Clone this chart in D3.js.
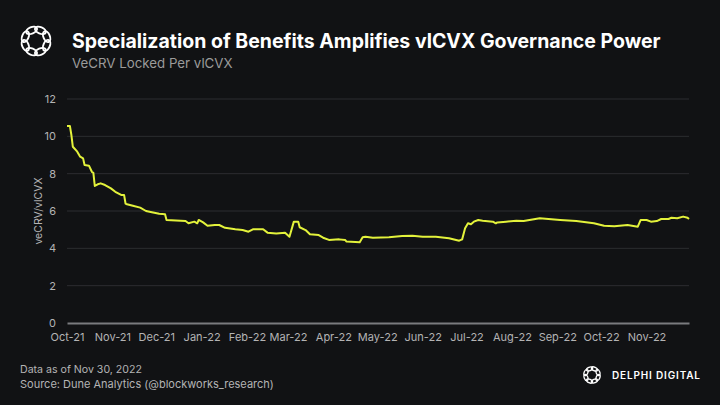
<!DOCTYPE html>
<html>
<head>
<meta charset="utf-8">
<script src="https://cdn.jsdelivr.net/npm/d3@7"></script>
<style>
    body { margin: 0; background: #111214; }
    svg { display: block; font-family: Inter, "Noto Sans", sans-serif; }
</style>
</head>
<body>
<svg width="720" height="405"></svg>
<script>
// veCRV locked per vlCVX
const dates = [
    "2021-10-01", "2021-10-03", "2021-10-04", "2021-10-05", "2021-10-08", "2021-10-10",
    "2021-10-12", "2021-10-13", "2021-10-16", "2021-10-18", "2021-10-19", "2021-10-20",
    "2021-10-22", "2021-10-24", "2021-10-27", "2021-10-31", "2021-11-03", "2021-11-07",
    "2021-11-09", "2021-11-10", "2021-11-11", "2021-11-15", "2021-11-20", "2021-11-24",
    "2021-11-28", "2021-12-03", "2021-12-07", "2021-12-08", "2021-12-21", "2021-12-23",
    "2021-12-27", "2021-12-29", "2021-12-30", "2022-01-02", "2022-01-05", "2022-01-10",
    "2022-01-13", "2022-01-17", "2022-01-24", "2022-01-29", "2022-02-02", "2022-02-05",
    "2022-02-12", "2022-02-15", "2022-02-21", "2022-02-27", "2022-03-02", "2022-03-05",
    "2022-03-08", "2022-03-09", "2022-03-13", "2022-03-16", "2022-03-22", "2022-03-25",
    "2022-03-29", "2022-04-05", "2022-04-09", "2022-04-10", "2022-04-19", "2022-04-21",
    "2022-04-23", "2022-04-28", "2022-05-09", "2022-05-18", "2022-05-25", "2022-06-01",
    "2022-06-10", "2022-06-19", "2022-06-26", "2022-06-28", "2022-06-30", "2022-07-02",
    "2022-07-04", "2022-07-06", "2022-07-09", "2022-07-12", "2022-07-19", "2022-07-21",
    "2022-07-22", "2022-07-28", "2022-08-04", "2022-08-09", "2022-08-20", "2022-09-03",
    "2022-09-14", "2022-09-26", "2022-10-03", "2022-10-10", "2022-10-19", "2022-10-22",
    "2022-10-26", "2022-10-28", "2022-11-01", "2022-11-04", "2022-11-08", "2022-11-11",
    "2022-11-16", "2022-11-18", "2022-11-22", "2022-11-26", "2022-11-29", "2022-11-30"
];
const values = [
    10.55, 10.55, 10.07, 9.44, 9.18, 8.91,
    8.82, 8.46, 8.43, 8.10, 8.05, 7.34,
    7.43, 7.48, 7.39, 7.21, 7.03, 6.86,
    6.86, 6.40, 6.36, 6.28, 6.18, 6.00,
    5.93, 5.85, 5.82, 5.52, 5.46, 5.34,
    5.43, 5.34, 5.52, 5.39, 5.21, 5.25,
    5.25, 5.10, 5.02, 4.98, 4.89, 5.02,
    5.02, 4.84, 4.80, 4.84, 4.62, 5.43,
    5.43, 5.13, 4.98, 4.75, 4.71, 4.57,
    4.45, 4.48, 4.45, 4.36, 4.32, 4.59,
    4.62, 4.57, 4.59, 4.66, 4.68, 4.62,
    4.62, 4.54, 4.41, 4.48, 5.07, 5.34,
    5.29, 5.43, 5.52, 5.48, 5.43, 5.34,
    5.39, 5.43, 5.48, 5.46, 5.61, 5.52,
    5.46, 5.34, 5.21, 5.18, 5.25, 5.21,
    5.16, 5.52, 5.52, 5.43, 5.46, 5.57,
    5.57, 5.64, 5.61, 5.70, 5.64, 5.57
];
const yTicks = [0, 2, 4, 6, 8, 10, 12];
const monthLabels = ["Oct-21", "Nov-21", "Dec-21", "Jan-22", "Feb-22", "Mar-22", "Apr-22",
    "May-22", "Jun-22", "Jul-22", "Aug-22", "Sep-22", "Oct-22", "Nov-22"];

const parse = d3.timeParse("%Y-%m-%d");
const data = dates.map((d, i) => ({date: parse(d), value: values[i]}));

const svg = d3.select("svg");
const plot = {left: 67, right: 689, top: 99, bottom: 323};

const x = d3.scaleTime()
    .domain([parse("2021-10-01"), parse("2022-11-30")])
    .range([plot.left, plot.right]);
const y = d3.scaleLinear()
    .domain([0, 12])
    .range([plot.bottom, plot.top]);

// header
function logo(g, r, w) {
    d3.range(8).forEach(i => {
        g.append("ellipse")
            .attr("cx", 0)
            .attr("cy", -r)
            .attr("rx", r * 0.5)
            .attr("ry", r * 0.28)
            .attr("transform", `rotate(${i * 45 + 22.5})`)
            .style("fill", "none")
            .style("stroke", "#fff")
            .style("stroke-width", w);
    });
}

logo(svg.append("g").attr("transform", "translate(36,41)"), 11.5, 1.9);

svg.append("text")
    .attr("x", 72)
    .attr("y", 48)
    .style("fill", "#fff")
    .style("font-size", "19.5px")
    .style("font-weight", 700)
    .text("Specialization of Benefits Amplifies vlCVX Governance Power");

svg.append("text")
    .attr("x", 72)
    .attr("y", 68)
    .style("fill", "#9b9b9b")
    .style("font-size", "13.3px")
    .text("VeCRV Locked Per vlCVX");

// grid + axes
svg.append("g")
    .selectAll("line")
    .data(yTicks.filter(t => t > 0))
    .enter().append("line")
    .attr("x1", plot.left)
    .attr("x2", plot.right)
    .attr("y1", d => y(d))
    .attr("y2", d => y(d))
    .style("stroke", "#2c2d30")
    .style("stroke-width", 1);

let yAxis = svg.append("g")
    .attr("transform", `translate(${plot.left},0)`)
    .call(d3.axisLeft(y).tickValues(yTicks).tickSize(0).tickPadding(11));
yAxis.select(".domain").remove();

let xAxis = svg.append("g")
    .attr("transform", `translate(0,${plot.bottom})`)
    .call(d3.axisBottom(x)
        .ticks(d3.timeMonth.every(1))
        .tickFormat((d, i) => monthLabels[i])
        .tickSize(0)
        .tickPadding(10));
xAxis.select(".domain")
    .style("stroke", "#7a7b7e")
    .style("stroke-width", 2);

svg.selectAll(".tick text")
    .style("fill", "#b4b4b4")
    .style("font-size", "11px")
    .style("font-family", "Inter, sans-serif");

svg.append("text")
    .attr("transform", "translate(42,211) rotate(-90)")
    .attr("text-anchor", "middle")
    .style("fill", "#b4b4b4")
    .style("font-size", "10.5px")
    .text("veCRV/vlCVX");

// the line
svg.append("path")
    .datum(data)
    .attr("d", d3.line()
        .x(d => x(d.date))
        .y(d => y(d.value)))
    .style("fill", "none")
    .style("stroke", "#e3f23b")
    .style("stroke-width", 2)
    .style("stroke-linejoin", "round");

// footer
svg.append("text")
    .attr("x", 20)
    .attr("y", 373)
    .style("fill", "#b4b4b4")
    .style("font-size", "10.6px")
    .text("Data as of Nov 30, 2022");

svg.append("text")
    .attr("x", 20)
    .attr("y", 388)
    .style("fill", "#b4b4b4")
    .style("font-size", "11px")
    .text("Source: Dune Analytics  (@blockworks_research)");

logo(svg.append("g").attr("transform", "translate(592,375)"), 6.5, 1.3);

svg.append("text")
    .attr("x", 612)
    .attr("y", 379)
    .attr("textLength", 88)
    .attr("lengthAdjust", "spacing")
    .style("fill", "#fff")
    .style("font-size", "10px")
    .style("font-weight", 600)
    .text("DELPHI DIGITAL");
</script>
</body>
</html>
